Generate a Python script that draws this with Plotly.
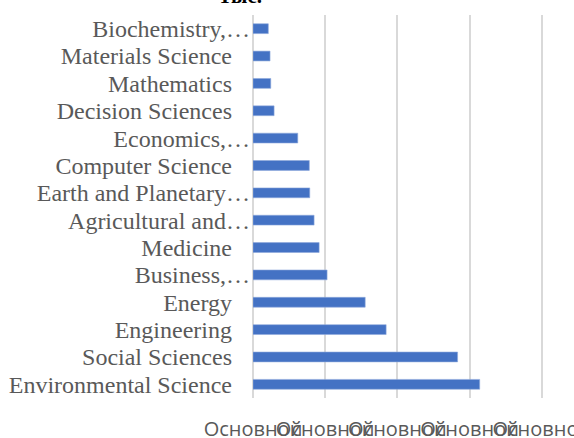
import plotly.graph_objects as go

categories = [
    "Biochemistry,…",
    "Materials Science",
    "Mathematics",
    "Decision Sciences",
    "Economics,…",
    "Computer Science",
    "Earth and Planetary…",
    "Agricultural and…",
    "Medicine",
    "Business,…",
    "Energy",
    "Engineering",
    "Social Sciences",
    "Environmental Science",
]
values = [10.6, 11.8, 12.3, 14.6, 31, 39, 39.3, 42.3, 45.8, 51.3, 77.7, 92.2, 141.7, 157]
tick_vals = [0, 50, 100, 150, 200]
tick_labels = ["Основной"] * 5
title_text = "Тыс."

NBSP = "\u00a0"
label_text = [c if c.endswith("…") else c + NBSP * 3 for c in categories]

fig = go.Figure(
    go.Bar(
        x=values,
        y=categories,
        orientation="h",
        marker=dict(color="#4472C4", line=dict(color="#8FAADC", width=0.6)),
    )
)

fig.update_layout(
    width=574,
    height=438,
    margin=dict(l=253, r=25, t=15, b=40, autoexpand=False),
    paper_bgcolor="white",
    plot_bgcolor="white",
    bargap=0.64,
    showlegend=False,
    title=dict(
        text="<b>" + title_text + "</b>",
        x=240 / 574,
        xanchor="center",
        xref="container",
        yref="container",
        y=1 - 3 / 438,
        yanchor="bottom",
        font=dict(family="Liberation Serif", size=21, color="black"),
    ),
)

fig.update_xaxes(
    range=[0, 205],
    tickmode="array",
    tickvals=tick_vals,
    ticktext=tick_labels,
    tickangle=0,
    showgrid=True,
    gridcolor="#D9D9D9",
    gridwidth=2,
    zeroline=True,
    zerolinecolor="#D9D9D9",
    zerolinewidth=2,
    showline=False,
    ticks="",
    ticklabelstandoff=17,
    ticklabeloverflow="allow",
    tickfont=dict(family="Open Sans", size=20, color="#595959"),
    automargin=False,
)

fig.update_yaxes(
    categoryorder="array",
    categoryarray=categories,
    autorange="reversed",
    tickmode="array",
    tickvals=categories,
    ticktext=label_text,
    ticks="",
    ticklabelstandoff=2,
    showgrid=False,
    showline=False,
    tickfont=dict(family="Liberation Serif", size=24, color="#595959"),
    automargin=False,
)

fig.write_html(
    "out.html",
    config={"displayModeBar": False},
    post_script="document.body.style.margin='0';document.body.style.overflow='hidden';",
)
